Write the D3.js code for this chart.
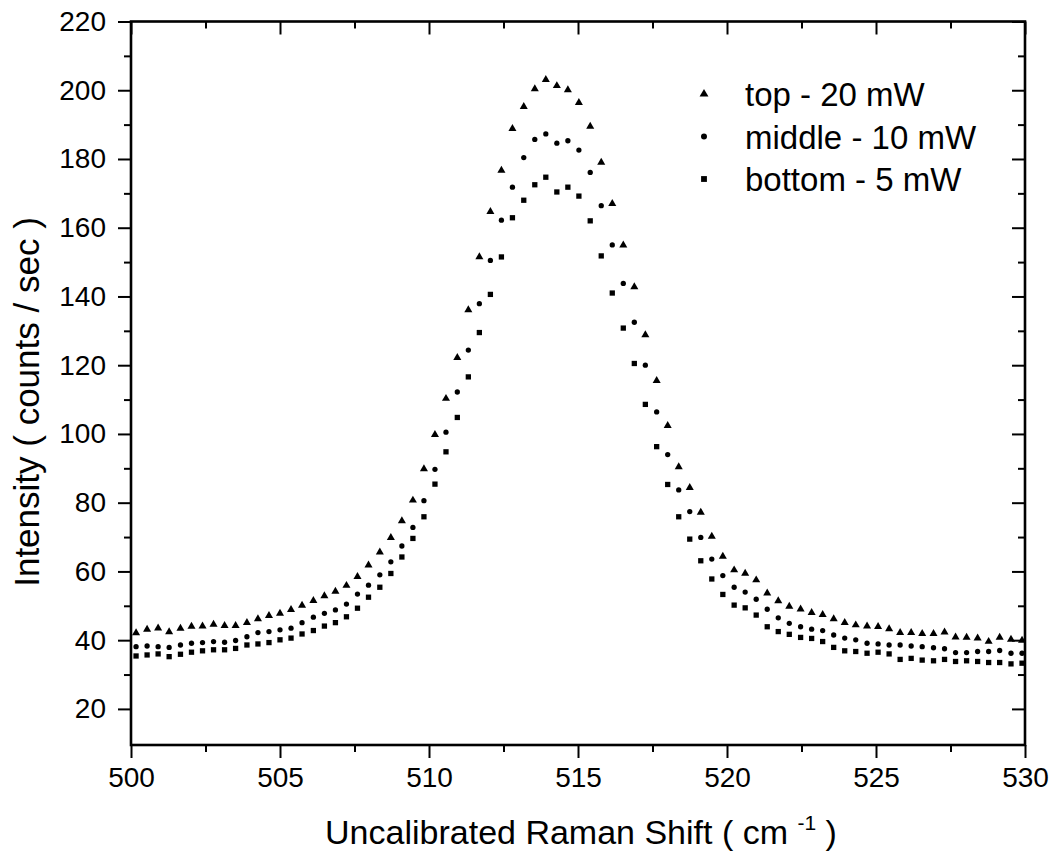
<!DOCTYPE html>
<html>
<head>
<meta charset="utf-8">
<script src="https://cdn.jsdelivr.net/npm/d3@7"></script>
<style>
  html, body { margin: 0; padding: 0; background: #fff; }
  svg { display: block; font-family: "Liberation Sans", Arial, sans-serif; }
</style>
</head>
<body>
<svg id="chart" width="1053" height="860"></svg>
<script>
// Raman shift (cm^-1) of each recorded point
const shifts = [
  500.17, 500.54, 500.91, 501.28, 501.66, 502.03, 502.40, 502.77, 503.14, 503.51,
  503.89, 504.26, 504.63, 505.00, 505.37, 505.74, 506.12, 506.49, 506.86, 507.23,
  507.60, 507.97, 508.35, 508.72, 509.09, 509.46, 509.83, 510.20, 510.57, 510.95,
  511.32, 511.69, 512.06, 512.43, 512.80, 513.18, 513.55, 513.92, 514.29, 514.66,
  515.03, 515.41, 515.78, 516.15, 516.52, 516.89, 517.26, 517.64, 518.01, 518.38,
  518.75, 519.12, 519.49, 519.86, 520.24, 520.61, 520.98, 521.35, 521.72, 522.09,
  522.47, 522.84, 523.21, 523.58, 523.95, 524.32, 524.70, 525.07, 525.44, 525.81,
  526.18, 526.55, 526.93, 527.30, 527.67, 528.04, 528.41, 528.78, 529.15, 529.53,
  529.90
];

// intensities (counts / sec)
const topValues = [
  42.1, 43.1, 43.5, 42.4, 43.4, 44.0, 44.1, 44.6, 44.2, 44.2,
  45.1, 46.2, 47.1, 47.8, 48.9, 50.1, 51.5, 52.9, 54.2, 55.9,
  58.5, 61.8, 65.6, 69.8, 74.7, 80.7, 89.8, 99.8, 110.3, 122.2,
  136.1, 151.5, 164.7, 176.7, 188.8, 195.2, 200.4, 203.1, 201.3, 200.1,
  196.4, 189.5, 179.0, 167.0, 154.9, 142.8, 128.8, 115.5, 102.4, 90.4,
  84.4, 77.2, 70.2, 64.4, 60.4, 59.4, 57.5, 53.7, 51.4, 49.8,
  49.0, 48.0, 47.4, 46.2, 45.1, 44.4, 44.1, 43.9, 43.3, 42.2,
  42.2, 41.9, 41.9, 42.3, 40.9, 40.8, 40.6, 39.6, 40.8, 40.2,
  39.9
];

const middleValues = [
  38.1, 38.3, 38.1, 37.9, 38.6, 39.1, 39.3, 39.6, 39.4, 39.9,
  41.0, 42.2, 42.5, 43.0, 43.5, 45.1, 46.7, 47.8, 48.8, 50.5,
  53.4, 56.0, 59.0, 62.8, 67.4, 72.8, 80.6, 89.7, 100.5, 112.2,
  124.4, 137.9, 150.5, 162.2, 171.8, 180.4, 185.7, 187.3, 184.6, 185.3,
  182.6, 176.1, 166.4, 155.0, 143.8, 132.5, 120.0, 106.4, 94.0, 83.7,
  77.4, 69.9, 63.6, 58.8, 55.4, 54.0, 51.9, 49.0, 46.5, 44.9,
  43.9, 43.2, 42.8, 41.5, 40.6, 40.1, 39.1, 38.9, 38.6, 38.6,
  38.3, 38.1, 37.8, 37.5, 36.4, 36.4, 36.7, 36.7, 37.0, 36.2,
  36.2
];

const bottomValues = [
  35.4, 35.7, 36.0, 35.2, 35.9, 36.5, 36.9, 37.2, 37.2, 37.6,
  38.6, 38.9, 39.3, 40.1, 40.6, 41.8, 42.8, 44.1, 45.1, 46.8,
  49.3, 52.5, 55.4, 59.4, 64.2, 69.6, 75.9, 85.4, 94.8, 104.8,
  116.6, 129.5, 140.6, 151.5, 162.9, 168.0, 172.5, 174.7, 170.4, 171.8,
  169.2, 162.0, 151.8, 141.0, 130.8, 120.5, 108.6, 96.3, 85.3, 75.9,
  69.4, 63.1, 57.8, 53.3, 50.2, 49.4, 47.3, 43.9, 42.5, 41.7,
  40.8, 40.5, 39.6, 37.9, 36.9, 36.7, 36.2, 36.5, 36.0, 34.4,
  34.7, 34.2, 34.0, 34.4, 33.8, 34.0, 33.8, 33.5, 33.5, 33.1,
  33.3
];

const seriesNames = ["top - 20 mW", "middle - 10 mW", "bottom - 5 mW"];
const xTicks = [500, 505, 510, 515, 520, 525, 530];
const xMinorTicks = [502.5, 507.5, 512.5, 517.5, 522.5, 527.5];
const yTicks = [20, 40, 60, 80, 100, 120, 140, 160, 180, 200, 220];
const yMinorTicks = [30, 50, 70, 90, 110, 130, 150, 170, 190, 210];

const svg = d3.select("#chart");
const margin = { left: 131, right: 28, top: 21.5, bottom: 115 };
const width = +svg.attr("width");
const height = +svg.attr("height");
const plotW = width - margin.left - margin.right;
const plotH = height - margin.top - margin.bottom;

const x = d3.scaleLinear().domain([500, 530]).range([0, plotW]);
const y = d3.scaleLinear().domain([9.5, 220]).range([plotH, 0]);

const g = svg
  .append("g")
  .attr("transform", `translate(${margin.left},${margin.top})`);

const symbols = [d3.symbolTriangle, d3.symbolCircle, d3.symbolSquare];
const symbolSizes = [28, 22, 28];

function drawSeries(values, k) {
  const data = values.map((v, i) => ({ x: shifts[i], y: v }));
  const path = d3.symbol(symbols[k], symbolSizes[k])();
  g.append("g")
    .selectAll("path")
    .data(data)
    .join("path")
    .attr("d", path)
    .attr("fill", "#000")
    .attr("transform", (d) => `translate(${x(d.x)},${y(d.y)})`);
}

[topValues, middleValues, bottomValues].forEach(drawSeries);

function styleAxis(sel) {
  sel.select(".domain").remove();
  sel.selectAll(".tick line").attr("stroke", "#000").attr("stroke-width", 2);
  sel
    .selectAll(".tick text")
    .attr("fill", "#000")
    .attr("font-size", 28);
}

// bottom axis, ticks outward
g.append("g")
  .attr("transform", `translate(0,${plotH})`)
  .call(d3.axisBottom(x).tickValues(xTicks).tickSize(13).tickPadding(9).tickFormat(d3.format("d")))
  .call(styleAxis);
g.append("g")
  .attr("transform", `translate(0,${plotH})`)
  .call(d3.axisBottom(x).tickValues(xMinorTicks).tickSize(7).tickFormat(""))
  .call(styleAxis);

// left axis, ticks outward
g.append("g")
  .call(d3.axisLeft(y).tickValues(yTicks).tickSize(13).tickPadding(12))
  .call(styleAxis);
g.append("g")
  .call(d3.axisLeft(y).tickValues(yMinorTicks).tickSize(7).tickFormat(""))
  .call(styleAxis);

// top and right axes, ticks inward, no labels
g.append("g")
  .call(d3.axisBottom(x).tickValues(xTicks).tickSize(13).tickFormat(""))
  .call(styleAxis);
g.append("g")
  .call(d3.axisBottom(x).tickValues(xMinorTicks).tickSize(7).tickFormat(""))
  .call(styleAxis);
g.append("g")
  .attr("transform", `translate(${plotW},0)`)
  .call(d3.axisLeft(y).tickValues(yTicks).tickSize(13).tickFormat(""))
  .call(styleAxis);
g.append("g")
  .attr("transform", `translate(${plotW},0)`)
  .call(d3.axisLeft(y).tickValues(yMinorTicks).tickSize(7).tickFormat(""))
  .call(styleAxis);

// frame
g.append("rect")
  .attr("width", plotW)
  .attr("height", plotH)
  .attr("fill", "none")
  .attr("stroke", "#000")
  .attr("stroke-width", 2.6);

// axis titles
const xTitle = svg
  .append("text")
  .attr("x", margin.left + plotW / 2 + 3)
  .attr("y", 844)
  .attr("text-anchor", "middle")
  .attr("font-size", 34)
  .attr("fill", "#000")
  .style("white-space", "pre");
xTitle.append("tspan").text("Uncalibrated Raman Shift ( cm ");
xTitle.append("tspan").attr("dy", -14).attr("font-size", 21).text("-1");
xTitle.append("tspan").attr("dy", 14).text(" )");

svg
  .append("text")
  .attr("transform", `translate(39,${402}) rotate(-90)`)
  .attr("text-anchor", "middle")
  .attr("font-size", 35)
  .attr("fill", "#000")
  .style("white-space", "pre")
  .text("Intensity ( counts / sec )");

// legend
const legend = svg
  .append("g")
  .attr("transform", "translate(704,94)");

const rows = legend
  .selectAll("g")
  .data(seriesNames)
  .join("g")
  .attr("transform", (d, i) => `translate(0,${i * 42.5})`);

rows
  .append("path")
  .attr("d", (d, i) => d3.symbol(symbols[i], symbolSizes[i] + 6)())
  .attr("fill", "#000");

rows
  .append("text")
  .attr("x", 41)
  .attr("y", 12)
  .attr("font-size", 33)
  .attr("fill", "#000")
  .text((d) => d);
</script>
</body>
</html>
